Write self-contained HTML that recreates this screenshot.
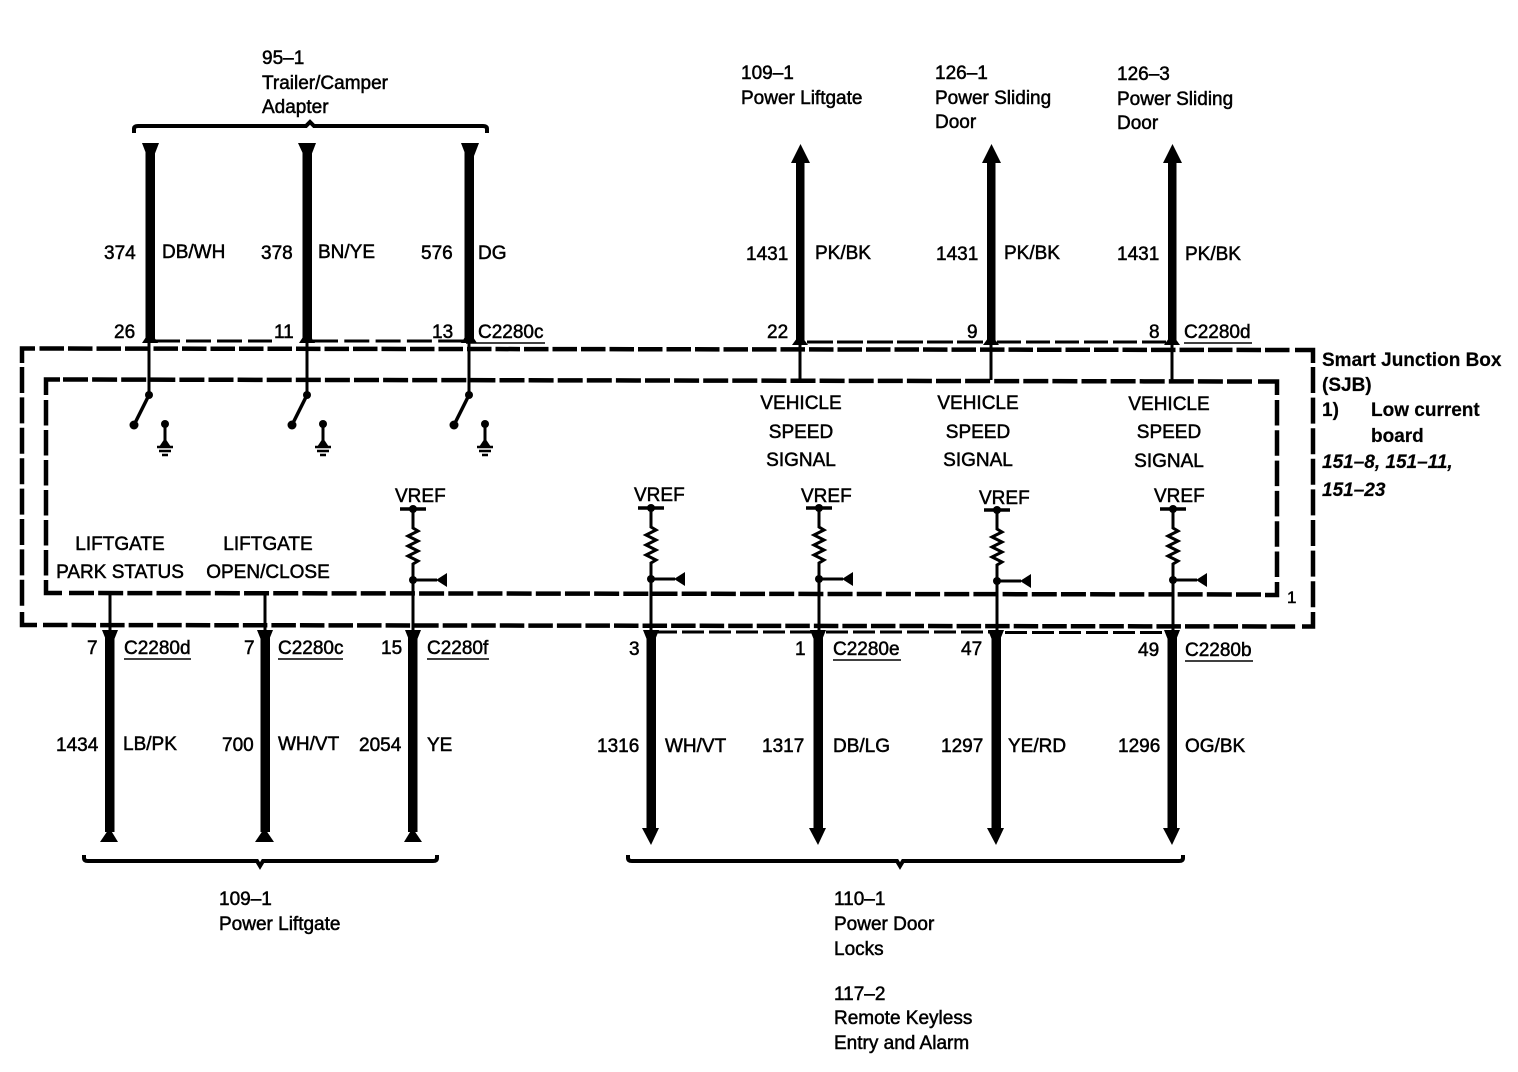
<!DOCTYPE html>
<html><head><meta charset="utf-8"><style>
html,body{margin:0;padding:0;background:#fff}
svg{display:block}
text{font-family:"Liberation Sans",sans-serif;font-size:19px;fill:#000;stroke:#000;stroke-width:.5}
.m{text-anchor:middle}
.b{font-weight:bold;font-size:19px;stroke-width:.2}
.bi{font-weight:bold;font-style:italic;font-size:19px;stroke-width:.2}
.box{fill:none;stroke:#000;stroke-width:4.5}
</style></head><body>
<svg width="1518" height="1072" viewBox="0 0 1518 1072" xmlns="http://www.w3.org/2000/svg">
<defs>
<g id="sw"><path d="M0 0V52" stroke="#000" stroke-width="3" fill="none"/><circle cx="0" cy="52" r="4"/><path d="M0 52L-15 82" stroke="#000" stroke-width="3.500"/><circle cx="-15" cy="82" r="4.500"/><circle cx="16" cy="81" r="4"/><path d="M16 81V102" stroke="#000" stroke-width="3"/><path d="M16 95L10 104H22Z"/><path d="M8 104H24M10 108H22M13 112H19" stroke="#000" stroke-width="2.500"/></g>
<g id="vr"><path d="M-13 0H13" stroke="#000" stroke-width="3.500"/><circle cx="0" cy="0" r="4"/><path d="M0 0V19L5 22L-5 27L5 32L-5 37L5 42L-5 47L5 52L0 55V71" stroke="#000" stroke-width="3" fill="none"/><circle cx="0" cy="71" r="4"/><path d="M0 71H24" stroke="#000" stroke-width="3"/><path d="M23 71L34 64V78Z"/></g>
</defs>

<!-- brackets -->
<path d="M134 133V129Q134 126 138 126H306L310 122L314 126H483Q487 126 487 129V133" fill="none" stroke="#000" stroke-width="4"/>
<path d="M84 855V858Q84 861 88 861H257L260 866L263 861H433Q437 861 437 858V855" fill="none" stroke="#000" stroke-width="4"/>
<path d="M628 855V858Q628 861 632 861H897L900 866L903 861H1179Q1183 861 1183 858V855" fill="none" stroke="#000" stroke-width="4"/>

<!-- outer box -->
<path class="box" d="M39.500 348.500L1290 350" stroke-dasharray="24.500 4"/>
<path class="box" d="M1295 350H1313V363"/>
<path class="box" d="M1313 367V610" stroke-dasharray="26 4.600"/>
<path class="box" d="M1313 612V626.500H1302"/>
<path class="box" d="M43 625L1298 626.500" stroke-dasharray="24.500 4.050"/>
<path class="box" d="M22 612V625H37"/>
<path class="box" d="M22 367V607" stroke-dasharray="26 4.400"/>
<path class="box" d="M35 348.500H22V363"/>
<!-- inner box -->
<path class="box" d="M63 379.500L1254 381.500" stroke-dasharray="25 4.100"/>
<path class="box" d="M60 379.500H46V395"/>
<path class="box" d="M1258 381.500H1277V395"/>
<path class="box" d="M1277 400V579" stroke-dasharray="25.500 4.800"/>
<path class="box" d="M1277 582V595H1265"/>
<path class="box" d="M69 593L1262 594.500" stroke-dasharray="25 4.175"/>
<path class="box" d="M46 580V593H62"/>
<path class="box" d="M46 400V578" stroke-dasharray="25.500 4.500"/>

<!-- connector dashes -->
<path d="M155 341H272" stroke="#000" stroke-width="3" stroke-dasharray="25 6"/>
<path d="M313 341H466" stroke="#000" stroke-width="3" stroke-dasharray="25 6.300"/>
<path d="M807 342H985" stroke="#000" stroke-width="3" stroke-dasharray="26 4"/>
<path d="M997 342H1166" stroke="#000" stroke-width="3" stroke-dasharray="24 5"/>
<path d="M655 632H812" stroke="#000" stroke-width="3" stroke-dasharray="22 5"/>
<path d="M826 632H990" stroke="#000" stroke-width="3" stroke-dasharray="22 5"/>
<path d="M1005 632.500H1168" stroke="#000" stroke-width="3" stroke-dasharray="22 5"/>

<!-- top-left wires -->
<g fill="#000" stroke="none">
<rect x="145.500" y="150" width="9.500" height="190"/><path d="M142 143H159L154 156H147Z"/><path d="M142 343L150 331L158 343Z"/>
<rect x="302.500" y="150" width="9.500" height="190"/><path d="M298 143H316L311 156H304Z"/><path d="M299 343L307 331L315 343Z"/>
<rect x="464.500" y="150" width="9.500" height="190"/><path d="M461 143H479L474 156H466Z"/><path d="M461 343L469 331L477 343Z"/>
</g>
<use href="#sw" x="149" y="343"/>
<use href="#sw" x="307" y="343"/>
<use href="#sw" x="469" y="343"/>

<!-- top-right wires -->
<g fill="#000" stroke="none">
<rect x="796" y="160" width="8.500" height="182"/><path d="M800.500 144L810 163H791Z"/><path d="M792 345L800 334L808 345Z"/>
<rect x="987" y="160" width="8.500" height="182"/><path d="M991.500 144L1001 163H982Z"/><path d="M983 345L991 334L999 345Z"/>
<rect x="1168" y="160" width="8.500" height="182"/><path d="M1172.500 144L1182 163H1163Z"/><path d="M1164 345L1172 334L1180 345Z"/>
</g>
<path d="M800 342V380M991 342V380M1172 342V380" stroke="#000" stroke-width="3"/>

<!-- bottom-left wires -->
<g fill="#000" stroke="none">
<rect x="105" y="632" width="9.500" height="200"/><path d="M100 842L109.500 828L118 842Z"/><path d="M102 630H118L114 640H106Z"/>
<rect x="260.500" y="632" width="9.500" height="200"/><path d="M255 842L264.500 828L274 842Z"/><path d="M257 630H273L269 640H261Z"/>
<rect x="408" y="632" width="9.500" height="200"/><path d="M404 842L412.500 828L422 842Z"/><path d="M405 630H421L417 640H409Z"/>
</g>
<path d="M110 594V632M265 594V632M413 580V632" stroke="#000" stroke-width="3"/>

<!-- bottom-right wires -->
<g fill="#000" stroke="none">
<rect x="646.500" y="632" width="9.500" height="198"/><path d="M642 828H659L651 845Z"/><path d="M643 630H659L655 640H647Z"/>
<rect x="813.500" y="632" width="9.500" height="198"/><path d="M809 828H826L818 845Z"/><path d="M810 630H826L822 640H814Z"/>
<rect x="991.500" y="632" width="9.500" height="198"/><path d="M987 828H1004L996 845Z"/><path d="M988 630H1004L1000 640H992Z"/>
<rect x="1167.500" y="632" width="9.500" height="198"/><path d="M1163 828H1180L1172 845Z"/><path d="M1164 630H1180L1176 640H1168Z"/>
</g>
<path d="M651 579V632M819 579V632M997 581V632M1173 580V632" stroke="#000" stroke-width="3"/>

<use href="#vr" x="413" y="509"/>
<use href="#vr" x="651" y="508"/>
<use href="#vr" x="819" y="508"/>
<use href="#vr" x="997" y="510"/>
<use href="#vr" x="1173" y="509"/>

<!-- connector underlines -->
<path d="M466 343H545M1184 343H1252M124 659H191M278 659H343M427 659H489M833 660H901M1185 661H1253" stroke="#000" stroke-width="1.500"/>

<!-- text -->
<g transform="translate(0,0.8)">
<text x="262" y="63">95–1</text><text x="262" y="88">Trailer/Camper</text><text x="262" y="112">Adapter</text>
<text x="741" y="78">109–1</text><text x="741" y="103">Power Liftgate</text>
<text x="935" y="78">126–1</text><text x="935" y="103">Power Sliding</text><text x="935" y="127">Door</text>
<text x="1117" y="79">126–3</text><text x="1117" y="104">Power Sliding</text><text x="1117" y="128">Door</text>

<text x="104" y="258">374</text><text x="162" y="257">DB/WH</text>
<text x="261" y="258">378</text><text x="318" y="257">BN/YE</text>
<text x="421" y="258">576</text><text x="478" y="258">DG</text>
<text x="746" y="259">1431</text><text x="815" y="258">PK/BK</text>
<text x="936" y="259">1431</text><text x="1004" y="258">PK/BK</text>
<text x="1117" y="259">1431</text><text x="1185" y="259">PK/BK</text>

<text x="114" y="337">26</text><text x="274" y="337">11</text><text x="432" y="337">13</text><text x="478" y="337">C2280c</text>
<text x="767" y="337">22</text><text x="967" y="337">9</text><text x="1149" y="337">8</text><text x="1184" y="337">C2280d</text>

<text class="b" x="1322" y="365">Smart Junction Box</text><text class="b" x="1322" y="390">(SJB)</text>
<text class="b" x="1322" y="415">1)</text><text class="b" x="1371" y="415">Low current</text><text class="b" x="1371" y="441">board</text>
<text class="bi" x="1322" y="467">151–8, 151–11,</text><text class="bi" x="1322" y="495">151–23</text>

<text class="m" x="801" y="408">VEHICLE</text><text class="m" x="801" y="437">SPEED</text><text class="m" x="801" y="465">SIGNAL</text>
<text class="m" x="978" y="408">VEHICLE</text><text class="m" x="978" y="437">SPEED</text><text class="m" x="978" y="465">SIGNAL</text>
<text class="m" x="1169" y="409">VEHICLE</text><text class="m" x="1169" y="437">SPEED</text><text class="m" x="1169" y="466">SIGNAL</text>

<text x="395" y="501">VREF</text><text x="634" y="500">VREF</text><text x="801" y="501">VREF</text><text x="979" y="503">VREF</text><text x="1154" y="501">VREF</text>

<text class="m" x="120" y="549">LIFTGATE</text><text class="m" x="120" y="577">PARK STATUS</text>
<text class="m" x="268" y="549">LIFTGATE</text><text class="m" x="268" y="577">OPEN/CLOSE</text>
<text x="1287" y="602" style="font-size:17px">1</text>

<text x="87" y="653">7</text><text x="124" y="653">C2280d</text>
<text x="244" y="653">7</text><text x="278" y="653">C2280c</text>
<text x="381" y="653">15</text><text x="427" y="653">C2280f</text>
<text x="629" y="654">3</text><text x="795" y="654">1</text><text x="833" y="654">C2280e</text>
<text x="961" y="654">47</text><text x="1138" y="655">49</text><text x="1185" y="655">C2280b</text>

<text x="56" y="750">1434</text><text x="123" y="749">LB/PK</text>
<text x="222" y="750">700</text><text x="278" y="749">WH/VT</text>
<text x="359" y="750">2054</text><text x="427" y="750">YE</text>
<text x="597" y="751">1316</text><text x="665" y="751">WH/VT</text>
<text x="762" y="751">1317</text><text x="833" y="751">DB/LG</text>
<text x="941" y="751">1297</text><text x="1008" y="751">YE/RD</text>
<text x="1118" y="751">1296</text><text x="1185" y="751">OG/BK</text>

<text x="219" y="904">109–1</text><text x="219" y="929">Power Liftgate</text>
<text x="834" y="904">110–1</text><text x="834" y="929">Power Door</text><text x="834" y="954">Locks</text>
<text x="834" y="999">117–2</text><text x="834" y="1023">Remote Keyless</text><text x="834" y="1048">Entry and Alarm</text>
</g>
</svg>
</body></html>
